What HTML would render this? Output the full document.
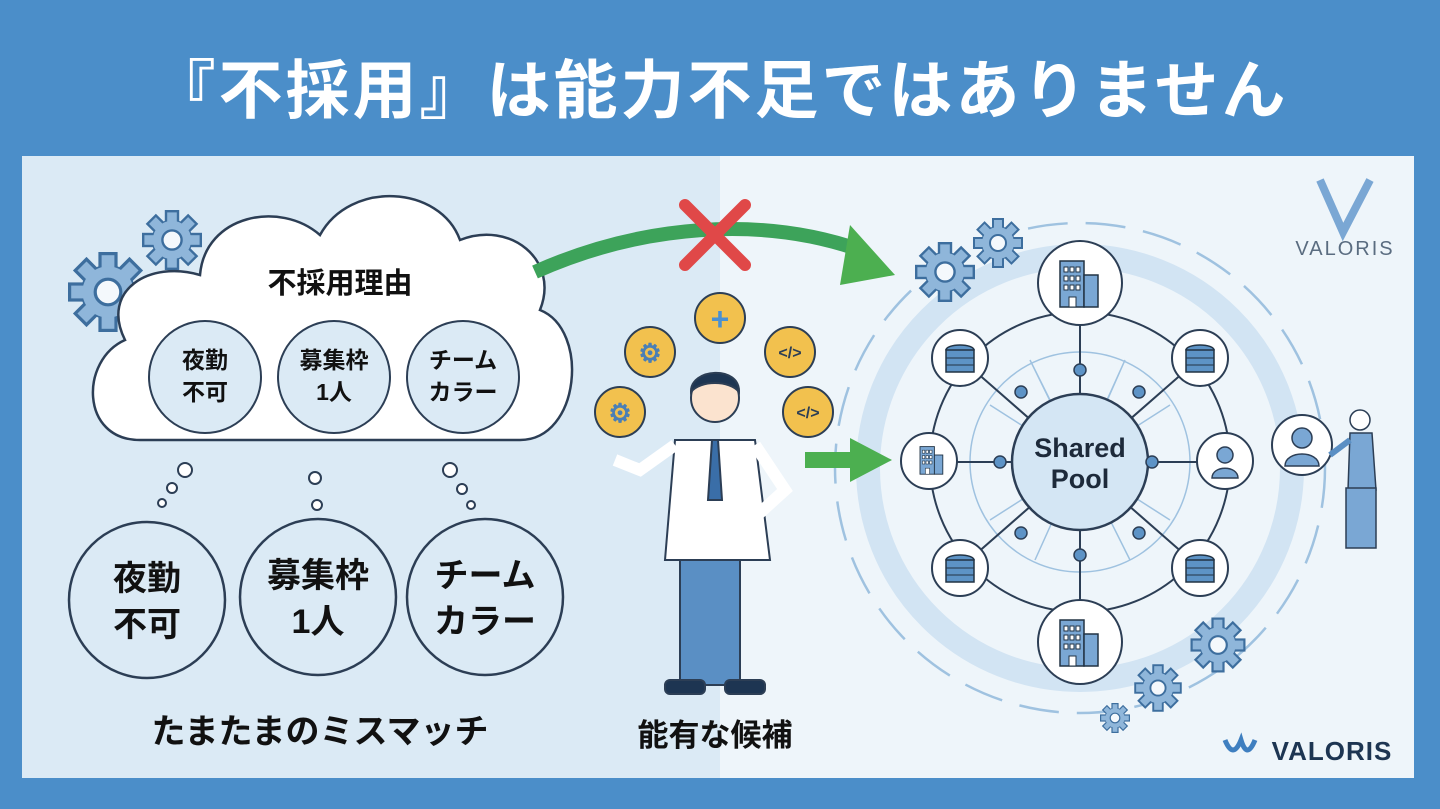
<!DOCTYPE html><html><head><meta charset="utf-8"><style>
body{margin:0;width:1440px;height:804px;background:#4b8ec9;overflow:hidden;font-family:"Liberation Sans","Noto Sans CJK JP",sans-serif}
</style></head><body>
<svg width="1440" height="804" viewBox="0 0 1440 804" xmlns="http://www.w3.org/2000/svg" font-family="'Liberation Sans','Noto Sans CJK JP',sans-serif">
<defs>
<g id="gear"><circle r="16" fill="#8fb6da" stroke="#3d6e9e" stroke-width="2"/><g fill="#8fb6da" stroke="#3d6e9e" stroke-width="2">
<rect x="-5" y="-24" width="10" height="10"/><rect x="-5" y="14" width="10" height="10"/><rect x="-24" y="-5" width="10" height="10"/><rect x="14" y="-5" width="10" height="10"/>
<rect x="-5" y="-24" width="10" height="10" transform="rotate(45)"/><rect x="-5" y="14" width="10" height="10" transform="rotate(45)"/><rect x="-24" y="-5" width="10" height="10" transform="rotate(45)"/><rect x="14" y="-5" width="10" height="10" transform="rotate(45)"/></g>
<circle r="16" fill="#8fb6da"/><circle r="8" fill="#f4f8fc" stroke="#3d6e9e" stroke-width="2"/></g>
<g id="db"><ellipse cx="0" cy="-10" rx="14" ry="5" fill="#5d93c6" stroke="#234" stroke-width="1.5"/><rect x="-14" y="-10" width="28" height="22" fill="#5d93c6" stroke="#234" stroke-width="1.5"/><line x1="-14" y1="-2" x2="14" y2="-2" stroke="#234"/><line x1="-14" y1="5" x2="14" y2="5" stroke="#234"/></g>
<g id="bld"><rect x="-20" y="-24" width="24" height="46" fill="#7aa7d4" stroke="#234" stroke-width="1.5"/><rect x="4" y="-10" width="14" height="32" fill="#7aa7d4" stroke="#234" stroke-width="1.5"/><g fill="#fff" stroke="#234" stroke-width="1"><rect x="-16" y="-18" width="4" height="5"/><rect x="-10" y="-18" width="4" height="5"/><rect x="-4" y="-18" width="4" height="5"/><rect x="-16" y="-9" width="4" height="5"/><rect x="-10" y="-9" width="4" height="5"/><rect x="-4" y="-9" width="4" height="5"/><rect x="-16" y="0" width="4" height="5"/><rect x="-10" y="0" width="4" height="5"/><rect x="-4" y="0" width="4" height="5"/><rect x="-11" y="12" width="7" height="10"/></g></g>
</defs>
<text x="720" y="113" text-anchor="middle" font-size="64" font-weight="bold" fill="#fff" letter-spacing="3">『不採用』は能力不足ではありません</text>
<rect x="22" y="156" width="698" height="622" fill="#dbeaf5"/>
<rect x="720" y="156" width="694" height="622" fill="#eef5fa"/>
<use href="#gear" transform="translate(108,292) scale(1.6)"/>
<use href="#gear" transform="translate(172,240) scale(1.2)"/>
<path d="M140,440 C80,440 80,360 125,340 C100,290 150,260 200,275 C205,215 280,200 320,235 C350,180 440,185 460,240 C510,220 560,260 540,310 C590,330 580,440 520,440 Z" fill="#fff" stroke="#2c3e55" stroke-width="2.5"/>
<text x="340" y="293" text-anchor="middle" font-size="29" font-weight="bold" fill="#111">不採用理由</text>
<g fill="#dbeaf5" stroke="#2c3e55" stroke-width="2"><circle cx="205" cy="377" r="56"/><circle cx="334" cy="377" r="56"/><circle cx="463" cy="377" r="56"/></g>
<g font-size="23" font-weight="bold" fill="#111" text-anchor="middle">
<text x="205" y="368">夜勤</text><text x="205" y="400">不可</text>
<text x="334" y="368">募集枠</text><text x="334" y="400">1人</text>
<text x="463" y="368">チーム</text><text x="463" y="400">カラー</text></g>
<g fill="#fff" stroke="#2c3e55" stroke-width="2"><circle cx="185" cy="470" r="7"/><circle cx="172" cy="488" r="5"/><circle cx="162" cy="503" r="4"/><circle cx="315" cy="478" r="6"/><circle cx="317" cy="505" r="5"/><circle cx="450" cy="470" r="7"/><circle cx="462" cy="489" r="5"/><circle cx="471" cy="505" r="4"/></g>
<g fill="#dbeaf5" stroke="#2c3e55" stroke-width="2.5"><circle cx="147" cy="600" r="78"/><circle cx="318" cy="597" r="78"/><circle cx="485" cy="597" r="78"/></g>
<g font-size="34" font-weight="bold" fill="#111" text-anchor="middle">
<text x="147" y="590">夜勤</text><text x="147" y="636">不可</text>
<text x="318" y="587">募集枠</text><text x="318" y="633">1人</text>
<text x="485" y="587">チーム</text><text x="485" y="633">カラー</text></g>
<text x="320" y="743" text-anchor="middle" font-size="34" font-weight="bold" fill="#111">たまたまのミスマッチ</text>
<text x="715" y="746" text-anchor="middle" font-size="31" font-weight="bold" fill="#111">能有な候補</text>
<!-- network background -->
<circle cx="1080" cy="468" r="212" fill="none" stroke="#d2e4f3" stroke-width="24"/>
<circle cx="1080" cy="468" r="245" fill="none" stroke="#9fc2e0" stroke-width="2.5" stroke-dasharray="40 18"/>
<!-- arrows -->
<path d="M535,272 C640,225 760,215 860,250" fill="none" stroke="#3da35a" stroke-width="14"/>
<polygon points="850,225 895,275 840,285" fill="#4caf50"/>
<g stroke="#e04848" stroke-width="12" stroke-linecap="round"><line x1="685" y1="205" x2="745" y2="265"/><line x1="745" y1="205" x2="685" y2="265"/></g>
<rect x="805" y="452" width="50" height="16" fill="#4caf50"/><polygon points="850,438 892,460 850,482" fill="#4caf50"/>
<g fill="#f2c14e" stroke="#2c3e55" stroke-width="2"><circle cx="650" cy="352" r="25"/><circle cx="720" cy="318" r="25"/><circle cx="790" cy="352" r="25"/><circle cx="620" cy="412" r="25"/><circle cx="808" cy="412" r="25"/></g>
<g fill="#2c3e55" font-size="16" font-weight="bold" text-anchor="middle"><text x="790" y="358">&lt;/&gt;</text><text x="808" y="418">&lt;/&gt;</text><text x="720" y="330" font-size="32" fill="#4a90d0">+</text><text x="650" y="362" font-size="26" fill="#4a7fb5">⚙</text><text x="620" y="422" font-size="26" fill="#4a7fb5">⚙</text></g>
<g stroke="#2c3e55" stroke-width="2">
<rect x="680" y="555" width="60" height="130" fill="#5a8fc4"/>
<path d="M675,440 L755,440 L770,560 L665,560 Z" fill="#fff"/>
<path d="M675,445 L640,470 L615,460" fill="none" stroke-width="12" stroke="#fff"/>
<path d="M755,445 L785,490 L752,520" fill="none" stroke-width="12" stroke="#fff"/>
<polygon points="712,440 718,440 722,500 708,500" fill="#3a6ea8"/>
<circle cx="715" cy="398" r="24" fill="#fbe3cf"/>
<path d="M691,392 C690,368 740,365 739,392 C730,380 700,380 691,392Z" fill="#1d3552"/>
<rect x="665" y="680" width="40" height="14" rx="5" fill="#1d3552"/><rect x="725" y="680" width="40" height="14" rx="5" fill="#1d3552"/></g>
<use href="#gear" transform="translate(945,272) scale(1.2)"/><use href="#gear" transform="translate(998,243) scale(1.0)"/>
<use href="#gear" transform="translate(1218,645) scale(1.1)"/><use href="#gear" transform="translate(1158,688) scale(0.95)"/><use href="#gear" transform="translate(1115,718) scale(0.6)"/>
<circle cx="1080" cy="462" r="150" fill="none" stroke="#2c3e55" stroke-width="2"/>
<g stroke="#9fc2e0" stroke-width="1.5" fill="none"><circle cx="1080" cy="462" r="110"/><path d="M1030,360 L1080,462 M1125,360 L1080,462 M990,405 L1170,520 M990,520 L1170,405 M1035,560 L1125,360 M1130,560 L1030,360"/></g>
<g stroke="#2c3e55" stroke-width="2"><line x1="1080" y1="283" x2="1080" y2="640"/><line x1="930" y1="462" x2="1225" y2="462"/><line x1="960" y1="358" x2="1200" y2="568"/><line x1="1200" y1="358" x2="960" y2="568"/></g>
<circle cx="1080" cy="462" r="68" fill="#d4e6f4" stroke="#2c3e55" stroke-width="2.5"/>
<text x="1080" y="457" text-anchor="middle" font-size="27" font-weight="bold" fill="#1d2a3a">Shared</text>
<text x="1080" y="488" text-anchor="middle" font-size="27" font-weight="bold" fill="#1d2a3a">Pool</text>
<g fill="#5d93c6" stroke="#2c3e55" stroke-width="1.5"><circle cx="1080" cy="370" r="6"/><circle cx="1080" cy="555" r="6"/><circle cx="1000" cy="462" r="6"/><circle cx="1152" cy="462" r="6"/><circle cx="1021" cy="392" r="6"/><circle cx="1139" cy="392" r="6"/><circle cx="1021" cy="533" r="6"/><circle cx="1139" cy="533" r="6"/></g>
<g fill="#fff" stroke="#2c3e55" stroke-width="2"><circle cx="1080" cy="283" r="42"/><circle cx="1080" cy="642" r="42"/><circle cx="929" cy="461" r="28"/><circle cx="1225" cy="461" r="28"/><circle cx="960" cy="358" r="28"/><circle cx="1200" cy="358" r="28"/><circle cx="960" cy="568" r="28"/><circle cx="1200" cy="568" r="28"/><circle cx="1302" cy="445" r="30"/></g>
<use href="#bld" transform="translate(1080,285)"/><use href="#bld" transform="translate(1080,644)"/><use href="#bld" transform="translate(932,461) scale(0.6)"/>
<use href="#db" transform="translate(960,360)"/><use href="#db" transform="translate(1200,360)"/><use href="#db" transform="translate(960,570)"/><use href="#db" transform="translate(1200,570)"/>
<g fill="#7aa7d4" stroke="#2c3e55" stroke-width="1.5"><circle cx="1225" cy="455" r="8"/><path d="M1212,478 C1212,465 1238,465 1238,478Z"/><circle cx="1302" cy="438" r="10"/><path d="M1285,466 C1285,450 1319,450 1319,466Z"/>
<circle cx="1360" cy="420" r="10" fill="#fff"/><path d="M1350,433 L1372,433 L1376,490 L1348,490Z"/><path d="M1350,440 L1330,455" stroke-width="6" stroke="#5a8fc4"/><rect x="1346" y="488" width="30" height="60"/></g>
<text x="1345" y="255" text-anchor="middle" font-size="20" fill="#5a6c80" letter-spacing="2">VALORIS</text>
<path d="M1320,180 L1343,232 L1370,180" fill="none" stroke="#7aa7d4" stroke-width="8"/>
<text x="1332" y="760" text-anchor="middle" font-size="26" font-weight="bold" fill="#1d3552" letter-spacing="1">VALORIS</text>
<path d="M1225,740 q8,20 16,0 q6,20 14,0" fill="none" stroke="#3f7fc0" stroke-width="5"/>
</svg>
</body></html>
